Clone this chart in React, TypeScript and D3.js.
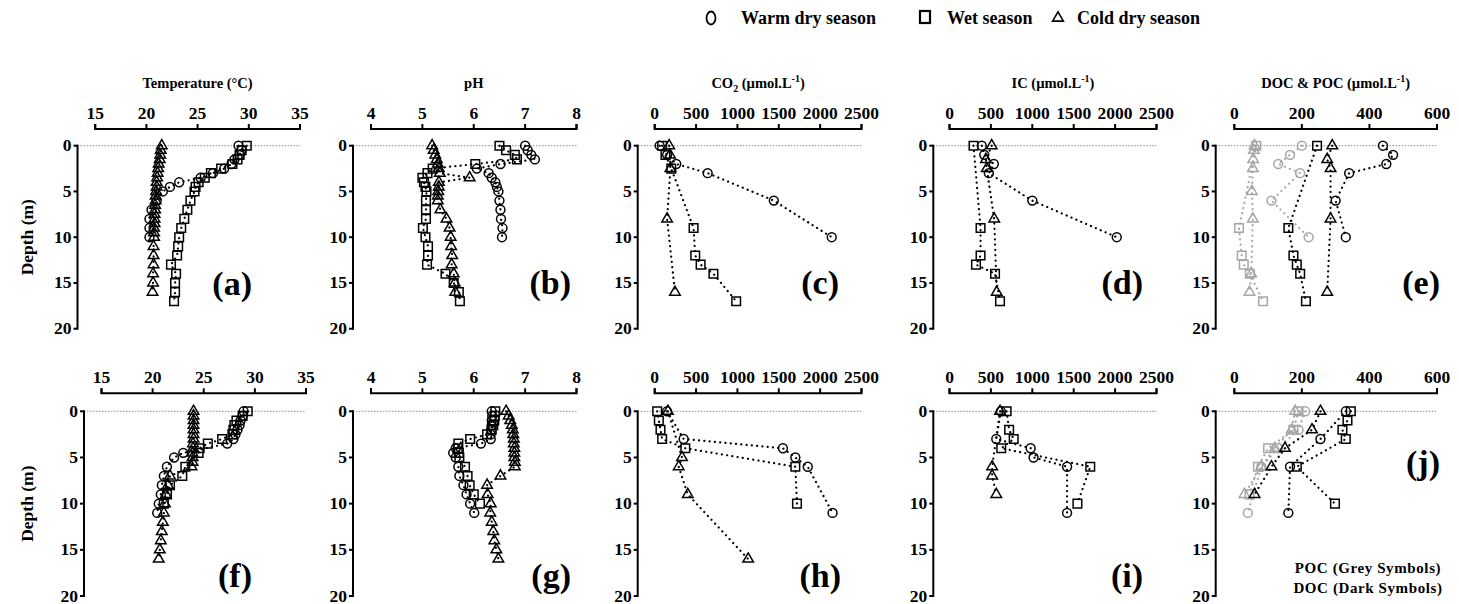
import React from "react";
import * as d3 from "d3";

// ---------- DATA: [depth (m), value] ----------
// Row 1 (top)
const tempWarm1 = [[0,29.0],[0.5,29.3],[1,29.1],[1.5,28.6],[2,28.3],[2.5,27.6],[3,26.5],[3.5,25.3],[4,23.2],[4.5,22.3],[5,21.6],[6,21.0],[7,20.5],[8,20.3],[9,20.3],[10,20.3]];
const tempWet1 = [[0,29.8],[0.5,29.3],[1,29.1],[1.5,28.9],[2,28.4],[2.5,27.3],[3,26.3],[3.5,25.7],[4,25.1],[4.5,24.8],[5,24.7],[6,24.3],[7,24.0],[8,23.7],[9,23.4],[10,23.2],[11,23.1],[12,23.0],[13,22.4],[14,22.9],[15,22.8],[16,22.8],[17,22.7]];
const tempCold1 = [[0,21.5],[0.5,21.4],[1,21.35],[1.5,21.3],[2,21.2],[2.5,21.15],[3,21.1],[3.5,21.05],[4,21.0],[4.5,21.0],[5,20.95],[5.5,20.9],[6,20.9],[6.5,20.85],[7,20.85],[7.5,20.8],[8,20.8],[8.5,20.8],[9,20.75],[9.5,20.75],[10,20.75],[11,20.7],[12,20.7],[13,20.7],[14,20.65],[15,20.65],[16,20.6]];

const phWarm1 = [[0,7.0],[0.5,7.05],[1,7.12],[1.5,7.19],[2,6.52],[2.5,6.06],[3,6.29],[3.5,6.35],[4,6.42],[4.5,6.45],[5,6.48],[6,6.5],[7,6.52],[8,6.53],[9,6.56],[10,6.55]];
const phWet1 = [[0,6.5],[0.5,6.63],[1,6.8],[1.5,6.84],[2,6.03],[2.5,5.2],[3,5.1],[3.5,5.0],[4,5.03],[4.5,5.06],[5,5.08],[6,5.07],[7,5.07],[8,5.07],[9,5.01],[10,5.06],[11,5.11],[12,5.11],[13,5.09],[14,5.45],[15,5.61],[16,5.71],[17,5.73]];
const phCold1 = [[0,5.19],[0.5,5.22],[1,5.25],[1.5,5.28],[2,5.3],[2.5,5.32],[3,5.34],[3.5,5.92],[4,5.32],[4.5,5.32],[5,5.31],[5.5,5.3],[6,5.3],[7,5.35],[8,5.47],[9,5.53],[10,5.55],[11,5.56],[12,5.58],[13,5.57],[14,5.61],[15,5.63],[16,5.64]];

const co2Warm1 = [[0,60],[1,150],[2,260],[3,640],[6,1440],[10,2140]];
const co2Wet1 = [[0,90],[1,130],[2.5,200],[9,470],[12,490],[13,555],[14,710],[17,985]];
const co2Cold1 = [[0,175],[1,185],[2.5,190],[8,150],[16,245]];

const icWarm1 = [[0,390],[1,420],[2,535],[3,475],[6,1000],[10,2020]];
const icWet1 = [[0,290],[9,375],[12,375],[13,320],[14,550],[17,610]];
const icCold1 = [[0,510],[1.5,440],[2.5,450],[8,540],[16,570]];

const docWarm1 = [[0,440],[1,470],[2,450],[3,340],[6,300],[10,330]];
const docWet1 = [[0,245],[9,160],[12,175],[13,185],[14,195],[17,212]];
const docCold1 = [[0,290],[1.5,275],[2.5,285],[8,285],[16,275]];
const pocWarm1 = [[0,200],[1,165],[2,130],[3,195],[6,110],[10,220]];
const pocWet1 = [[0,65],[9,14],[12,22],[13,28],[14,46],[17,85]];
const pocCold1 = [[0,60],[0.5,58],[1.5,56],[2.5,55],[5,52],[8,55],[14,50],[16,45]];

// Row 2 (bottom)
const tempWarm2 = [[0,28.9],[0.5,28.8],[1,28.6],[1.5,28.5],[2,28.3],[2.5,28.1],[3,27.9],[3.5,27.3],[4.5,23.0],[5,22.1],[6,21.4],[7,21.1],[8,20.9],[9,20.8],[10,20.6],[11,20.45]];
const tempWet2 = [[0,29.3],[0.5,28.8],[1,28.2],[1.5,28.0],[2,27.9],[2.5,27.8],[3,26.8],[3.5,25.4],[4,24.6],[4.5,24.5],[6,23.2],[7,22.9],[8,21.7],[9,21.4],[10,21.1]];
const tempCold2 = [[0,24.0],[0.5,24.0],[1,24.0],[1.5,24.0],[2,24.0],[2.5,24.0],[3,24.0],[3.5,23.95],[4,23.95],[4.5,23.9],[5,23.9],[5.5,23.9],[6,23.8],[7,21.7],[8,21.5],[9,21.3],[10,21.2],[11,21.1],[12,21.0],[13,20.9],[14,20.8],[15,20.7],[16,20.6]];

const phWarm2 = [[0,6.35],[0.5,6.36],[1,6.35],[1.5,6.35],[2,6.34],[2.5,6.33],[3,6.33],[3.5,6.14],[4,5.65],[4.5,5.6],[5,5.65],[6,5.7],[7,5.72],[8,5.8],[9,5.86],[10,5.93],[11,6.01]];
const phWet2 = [[0,6.42],[0.5,6.41],[1,6.4],[1.5,6.38],[2,6.35],[2.5,6.26],[3,5.93],[3.5,5.7],[4,5.69],[4.5,5.71],[5,5.72],[6,5.83],[7,5.88],[8,5.92],[9,6.0],[10,6.12]];
const phCold2 = [[0,6.63],[0.5,6.68],[1,6.71],[1.5,6.74],[2,6.76],[2.5,6.77],[3,6.78],[3.5,6.78],[4,6.79],[4.5,6.79],[5,6.79],[5.5,6.8],[6,6.8],[7,6.52],[8,6.26],[9,6.27],[10,6.33],[11,6.32],[12,6.35],[13,6.38],[14,6.4],[15,6.44],[16,6.48]];

const co2Warm2 = [[0,150],[3,350],[4,1550],[5,1700],[6,1850],[11,2150]];
const co2Wet2 = [[0,30],[1,50],[2,70],[3,90],[4,370],[6,1700],[10,1720]];
const co2Cold2 = [[0,160],[5,330],[6,290],[9,400],[16,1130]];

const icWarm2 = [[0,620],[3,565],[4,980],[5,1015],[6,1420],[11,1420]];
const icWet2 = [[0,690],[2,720],[3,775],[4,625],[6,1700],[10,1545]];
const icCold2 = [[0,610],[6,515],[7,515],[9,565]];

const docWarm2 = [[0,330],[3,255],[6,165],[11,160]];
const docWet2 = [[0,345],[1,335],[2,320],[3,330],[6,185],[10,298]];
const docCold2 = [[0,255],[2,230],[4,150],[6,110],[9,60]];
const pocWarm2 = [[0,210],[2,190],[4,130],[6,80],[11,40]];
const pocWet2 = [[0,190],[2,175],[4,100],[6,70],[9,45]];
const pocCold2 = [[0,180],[2,170],[4,120],[6,80],[9,30]];

// Axis ticks
const tempTicks = [15, 20, 25, 30, 35];
const phTicks = [4, 5, 6, 7, 8];
const carbonTicks = [0, 500, 1000, 1500, 2000, 2500];
const ocTicks = [0, 200, 400, 600];
const depthTicks = [0, 5, 10, 15, 20];

const legendItems = ["Warm dry season", "Wet season", "Cold dry season"];

// ---------- LAYOUT ----------
const ROWS = [
  { axisY: 129, y0: 145.7, y20: 328.7 },
  { axisY: 393.3, y0: 411.3, y20: 596 },
];

type Ser = { data: number[][]; sym: "circle" | "square" | "triangle"; grey?: boolean };

const FONT = "'Liberation Serif', 'Times New Roman', serif";

const mk = (w: number[][], we: number[][], c: number[][]): Ser[] => [
  { data: c, sym: "triangle" },
  { data: we, sym: "square" },
  { data: w, sym: "circle" },
];

const PANELS = [
  { row: 0, yAx: 77.5, x0: 95.2, x1: 300, dom: [15, 35], ticks: tempTicks, title: "temp", label: "(a)", lx: 252, ly: 295, series: mk(tempWarm1, tempWet1, tempCold1) },
  { row: 0, yAx: 353, x0: 371, x1: 576.5, dom: [4, 8], ticks: phTicks, title: "ph", label: "(b)", lx: 571, ly: 294, series: mk(phWarm1, phWet1, phCold1) },
  { row: 0, yAx: 637.7, x0: 654.7, x1: 861.5, dom: [0, 2500], ticks: carbonTicks, title: "co2", label: "(c)", lx: 839, ly: 294, series: mk(co2Warm1, co2Wet1, co2Cold1) },
  { row: 0, yAx: 933.3, x0: 949.5, x1: 1156.5, dom: [0, 2500], ticks: carbonTicks, title: "ic", label: "(d)", lx: 1143, ly: 294, series: mk(icWarm1, icWet1, icCold1) },
  { row: 0, yAx: 1215.7, x0: 1234.3, x1: 1437, dom: [0, 600], ticks: ocTicks, title: "oc", label: "(e)", lx: 1440, ly: 294,
    series: [
      { data: pocCold1, sym: "triangle", grey: true }, { data: pocWet1, sym: "square", grey: true }, { data: pocWarm1, sym: "circle", grey: true },
      ...mk(docWarm1, docWet1, docCold1)] },
  { row: 1, yAx: 84, x0: 101.5, x1: 306, dom: [15, 35], ticks: tempTicks, title: null, label: "(f)", lx: 252, ly: 587, series: mk(tempWarm2, tempWet2, tempCold2) },
  { row: 1, yAx: 353, x0: 371, x1: 576.5, dom: [4, 8], ticks: phTicks, title: null, label: "(g)", lx: 571, ly: 587, series: mk(phWarm2, phWet2, phCold2) },
  { row: 1, yAx: 637.7, x0: 654.7, x1: 861.5, dom: [0, 2500], ticks: carbonTicks, title: null, label: "(h)", lx: 841, ly: 587, series: mk(co2Warm2, co2Wet2, co2Cold2) },
  { row: 1, yAx: 933.3, x0: 949.5, x1: 1156.5, dom: [0, 2500], ticks: carbonTicks, title: null, label: "(i)", lx: 1143, ly: 587, series: mk(icWarm2, icWet2, icCold2) },
  { row: 1, yAx: 1215.7, x0: 1234.3, x1: 1437, dom: [0, 600], ticks: ocTicks, title: null, label: "(j)", lx: 1440, ly: 474,
    series: [
      { data: pocCold2, sym: "triangle", grey: true }, { data: pocWet2, sym: "square", grey: true }, { data: pocWarm2, sym: "circle", grey: true },
      ...mk(docWarm2, docWet2, docCold2)] },
];

const symGen: Record<string, string> = {
  circle: d3.symbol(d3.symbolCircle, 62)() as string,
  square: d3.symbol(d3.symbolSquare, 74)() as string,
  triangle: d3.symbol(d3.symbolTriangle, 48)() as string,
};

function Title({ kind, x, y }: { kind: string | null; x: number; y: number }) {
  if (!kind) return null;
  const common = { x, y, textAnchor: "middle" as const, fontFamily: FONT, fontWeight: 700, fontSize: 14.5 };
  if (kind === "temp") return <text {...common}>Temperature (°C)</text>;
  if (kind === "ph") return <text {...common}>pH</text>;
  if (kind === "co2")
    return (
      <text {...common}>
        CO<tspan dy={4} fontSize={10}>2</tspan>
        <tspan dy={-4}> (µmol.L</tspan>
        <tspan dy={-6} fontSize={10}>-1</tspan>
        <tspan dy={6}>)</tspan>
      </text>
    );
  if (kind === "ic")
    return (
      <text {...common}>
        IC (µmol.L<tspan dy={-6} fontSize={10}>-1</tspan>
        <tspan dy={6}>)</tspan>
      </text>
    );
  return (
    <text {...common}>
      DOC &amp; POC (µmol.L<tspan dy={-6} fontSize={10}>-1</tspan>
      <tspan dy={6}>)</tspan>
    </text>
  );
}

function Panel({ p }: { p: (typeof PANELS)[number] }) {
  const r = ROWS[p.row];
  const x = d3.scaleLinear().domain(p.dom).range([p.x0, p.x1]);
  const y = d3.scaleLinear().domain([0, 20]).range([r.y0, r.y20]);
  const line = d3.line<number[]>().x((d) => x(d[1])).y((d) => y(d[0]));
  const tickFs = 17.5;
  return (
    <g>
      {/* zero-depth dotted reference */}
      <line x1={p.yAx} x2={p.x1} y1={y(0)} y2={y(0)} stroke="#8a8a8a" strokeWidth={1} strokeDasharray="1.5 1.5" />
      {/* top x axis */}
      <path d={`M${p.x0},${r.axisY - 5}V${r.axisY}H${p.x1}V${r.axisY - 5}`} fill="none" stroke="#000" strokeWidth={2} />
      {p.ticks.map((t) => (
        <g key={t}>
          <line x1={x(t)} x2={x(t)} y1={r.axisY} y2={r.axisY - 5} stroke="#000" strokeWidth={2} />
          <text x={x(t)} y={r.axisY - 10} textAnchor="middle" fontFamily={FONT} fontWeight={700} fontSize={tickFs}>{t}</text>
        </g>
      ))}
      {/* left y axis */}
      <line x1={p.yAx} x2={p.yAx} y1={y(0) - 1} y2={y(20) + 1} stroke="#000" strokeWidth={2} />
      {depthTicks.map((t) => (
        <g key={t}>
          <line x1={p.yAx - 4} x2={p.yAx} y1={y(t)} y2={y(t)} stroke="#000" strokeWidth={2} />
          <text x={p.yAx - 6} y={y(t) + 5.5} textAnchor="end" fontFamily={FONT} fontWeight={700} fontSize={tickFs}>{t}</text>
        </g>
      ))}
      <Title kind={p.title} x={(p.x0 + p.x1) / 2} y={r.axisY - 41} />
      {/* series */}
      {p.series.map((s, i) => {
        const col = s.grey ? "#a6a6a6" : "#000";
        return (
          <g key={i}>
            {s.data.map((d, j) => (
              <path key={j} d={symGen[s.sym]} transform={`translate(${x(d[1])},${y(d[0])})`} fill="none" stroke={col} strokeWidth={1.5} />
            ))}
            <path d={line(s.data) as string} fill="none" stroke={col} strokeWidth={2.2} strokeLinecap="round" strokeDasharray="0.1 5.2" />
          </g>
        );
      })}
      <text x={p.lx} y={p.ly} textAnchor="end" fontFamily={FONT} fontWeight={700} fontSize={34}>{p.label}</text>
    </g>
  );
}

export default function App() {
  const W = 1459, H = 604;
  return (
    <svg width={W} height={H} style={{ position: "absolute", left: 0, top: 0, background: "#fff" }}>
      <rect width={W} height={H} fill="#fff" />
      {/* Legend */}
      <g fontFamily={FONT} fontWeight={700} fontSize={18}>
        <ellipse cx={711} cy={18} rx={4.5} ry={6.5} fill="none" stroke="#000" strokeWidth={1.8} />
        <text x={741} y={24}>{legendItems[0]}</text>
        <rect x={920} y={11} width={10} height={12} fill="none" stroke="#000" strokeWidth={2.2} />
        <text x={947} y={24}>{legendItems[1]}</text>
        <path d={d3.symbol(d3.symbolTriangle, 50)() as string} transform="translate(1058,18)" fill="none" stroke="#000" strokeWidth={1.6} />
        <text x={1077} y={24}>{legendItems[2]}</text>
      </g>
      {/* Depth labels */}
      {ROWS.map((r, i) => (
        <text key={i} transform={`translate(33,${(r.y0 + r.y20) / 2}) rotate(-90)`} textAnchor="middle" fontFamily={FONT} fontWeight={700} fontSize={17.5}>Depth (m)</text>
      ))}
      {PANELS.map((p, i) => <Panel key={i} p={p} />)}
      {/* annotation in (j) */}
      <g fontFamily={FONT} fontWeight={700} fontSize={15} textAnchor="middle" letterSpacing={0.6}>
        <text x={1368} y={573}>POC (Grey Symbols)</text>
        <text x={1368} y={593}>DOC (Dark Symbols)</text>
      </g>
    </svg>
  );
}
